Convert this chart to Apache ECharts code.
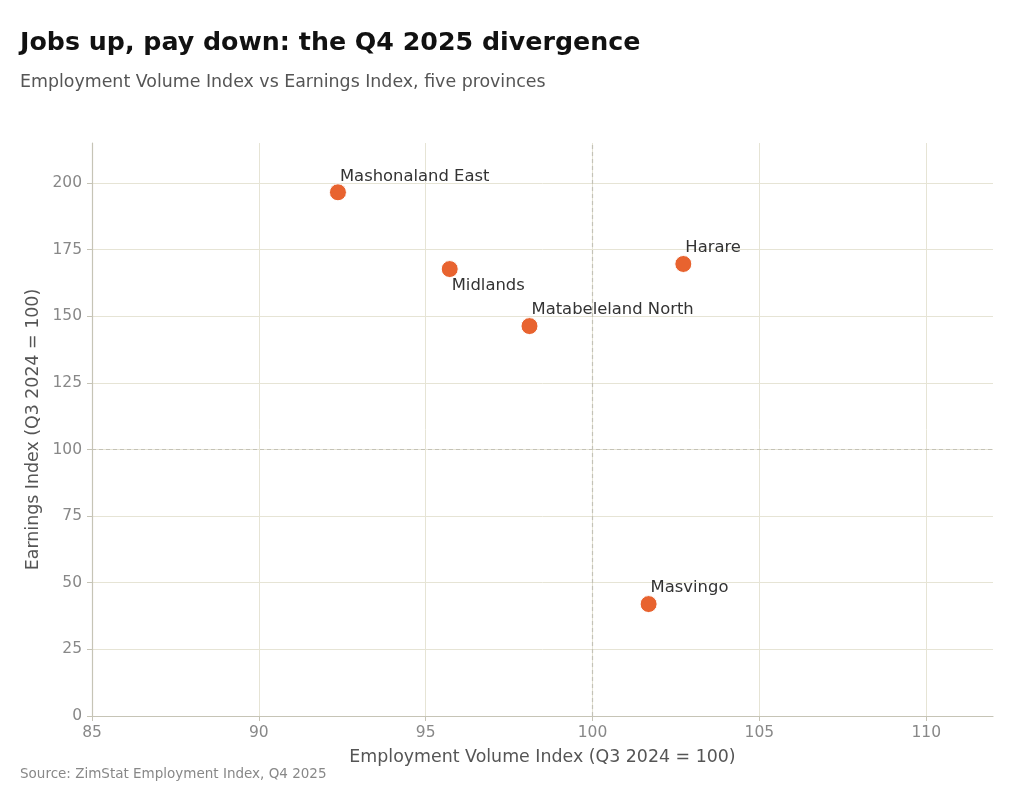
<!DOCTYPE html>
<html>
<head>
<meta charset="utf-8">
<script src="https://cdn.jsdelivr.net/npm/echarts@6/dist/echarts.min.js"></script>
<style>
  html, body { margin: 0; padding: 0; background: #fff; }
  #chart { width: 1024px; height: 796px; }
</style>
</head>
<body>
<div id="chart"></div>
<script>
// data
var provinces = ['Mashonaland East', 'Midlands', 'Harare', 'Matabeleland North', 'Masvingo'];
var employment = [92.37, 95.72, 102.72, 98.11, 101.68];
var earnings = [196.5, 167.7, 169.6, 146.3, 42.0];
var xTicks = [85, 90, 95, 100, 105, 110];
var yTicks = [0, 25, 50, 75, 100, 125, 150, 175, 200];

// labels sit above-right of the dot, except Midlands which goes below
var below = { 'Midlands': true };

var FONT = '"DejaVu Sans", sans-serif';
var gridColor = '#e6e4d5';
var axisColor = '#c6c4b6';

var points = provinces.map(function (name, i) {
  return {
    name: name,
    value: [employment[i], earnings[i]],
    label: {
      position: below[name] ? [11, 26] : [11, -7]
    }
  };
});

var chart = echarts.init(document.getElementById('chart'), null, { renderer: 'canvas' });
chart.setOption({
  backgroundColor: '#fff',
  animation: false,
  textStyle: { fontFamily: FONT },
  title: [
    {
      text: 'Jobs up, pay down: the Q4 2025 divergence',
      left: 15, top: 26,
      textStyle: { fontFamily: FONT, fontSize: 25.3, fontWeight: 'bold', color: '#111' }
    },
    {
      text: 'Employment Volume Index vs Earnings Index, five provinces',
      left: 15, top: 69,
      textStyle: { fontFamily: FONT, fontSize: 17.4, fontWeight: 'normal', color: '#555' }
    },
    {
      text: 'Source: ZimStat Employment Index, Q4 2025',
      left: 15, top: 762,
      textStyle: { fontFamily: FONT, fontSize: 13.5, fontWeight: 'normal', color: '#888' }
    }
  ],
  grid: { left: 92, right: 31, top: 143, bottom: 80 },
  xAxis: {
    type: 'value',
    min: 85, max: 112, interval: 5,
    name: 'Employment Volume Index (Q3 2024 = 100)',
    nameLocation: 'middle', nameGap: 41,
    nameTextStyle: { fontFamily: FONT, fontSize: 17.4, color: '#555', verticalAlign: 'middle' },
    axisLine: { show: true, lineStyle: { color: axisColor, width: 1.2 } },
    axisTick: { show: true, length: 5, customValues: xTicks, lineStyle: { color: axisColor } },
    axisLabel: {
      fontFamily: FONT, fontSize: 15.5, color: '#888', margin: 9,
      customValues: xTicks
    },
    splitLine: { show: true, lineStyle: { color: gridColor, width: 1 } }
  },
  yAxis: {
    type: 'value',
    min: 0, max: 215, interval: 25,
    name: 'Earnings Index (Q3 2024 = 100)',
    nameLocation: 'middle', nameGap: 57,
    nameTextStyle: { fontFamily: FONT, fontSize: 17.4, color: '#555', verticalAlign: 'middle' },
    axisLine: { show: true, lineStyle: { color: axisColor, width: 1.2 } },
    axisTick: { show: true, length: 5, customValues: yTicks, lineStyle: { color: axisColor } },
    axisLabel: {
      fontFamily: FONT, fontSize: 15.5, color: '#888', margin: 10,
      customValues: yTicks
    },
    splitLine: { show: true, lineStyle: { color: gridColor, width: 1 } }
  },
  series: [
    {
      type: 'scatter',
      data: points,
      symbolSize: 17,
      itemStyle: { color: '#e8632f', opacity: 1, borderColor: '#fff', borderWidth: 1 },
      label: {
        show: true,
        formatter: '{b}',
        align: 'left',
        verticalAlign: 'middle',
        fontFamily: FONT,
        fontSize: 16.4,
        color: '#333'
      },
      markLine: {
        silent: true,
        symbol: 'none',
        label: { show: false },
        lineStyle: { color: '#c4c2b6', type: [4, 3], width: 1.2 },
        data: [{ xAxis: 100 }, { yAxis: 100 }]
      },
      z: 5
    }
  ]
});
</script>
</body>
</html>
